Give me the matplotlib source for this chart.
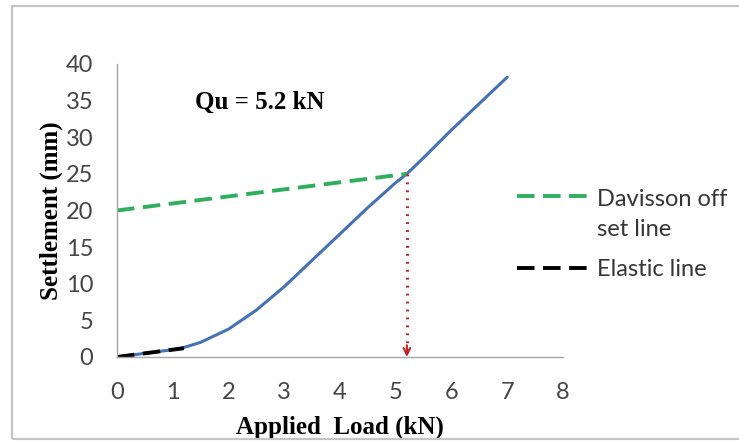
import matplotlib
matplotlib.use("Agg")
import matplotlib.pyplot as plt
from matplotlib.lines import Line2D
from matplotlib.patches import Rectangle

# load-settlement record of the pile test
load_kn = [0, 0.5, 1.0, 1.2, 1.5, 2.0, 2.5, 3.0, 3.5, 4.0, 4.5, 5.0, 5.2, 5.5, 6.0, 6.5, 7.0]
settlement_mm = [0, 0.5, 1.0, 1.3, 2.0, 3.8, 6.4, 9.6, 13.2, 16.8, 20.4, 23.8, 25.0, 27.2, 31.0, 34.6, 38.2]

# Davisson offset line and elastic line end points
davisson_x = [0, 5.2]
davisson_y = [20, 25]
elastic_x = [0, 1.2]
elastic_y = [0, 1.2]

qu = 5.2
qu_settle = 25

xticks = [0, 1, 2, 3, 4, 5, 6, 7, 8]
yticks = [0, 5, 10, 15, 20, 25, 30, 35, 40]
legend_labels = ["Davisson off\nset line", "Elastic line"]

sans = ["Lato", "DejaVu Sans"]
serif = ["Liberation Serif", "DejaVu Serif"]
green = "#2fae5e"
dash = (4.5, 2.2)

fig = plt.figure(figsize=(7.39, 4.41), dpi=100)
ax = fig.add_axes([0.1583, 0.1905, 0.6035, 0.6644])

# chart border
fig.patches.append(Rectangle((0.016, 0.005), 0.99, 0.982, transform=fig.transFigure,
                             fill=False, edgecolor="#c4c4c4", linewidth=1.6))

ax.plot(load_kn, settlement_mm, color="#4672b4", linewidth=2.2, solid_capstyle="round")
ax.plot(davisson_x, davisson_y, color=green, linewidth=2.8, dashes=dash)
ax.plot(elastic_x, elastic_y, color="black", linewidth=2.8, dashes=dash)

# dotted drop from the intersection to the load axis
ax.plot([qu, qu], [qu_settle, 0.6], color="#b8262c", linewidth=2.2, linestyle=(0, (0.6, 2.0)))
ax.annotate("", xy=(qu, 0), xytext=(qu, 1.6),
            arrowprops=dict(arrowstyle="->", color="#b8262c", lw=1.5,
                            mutation_scale=12, shrinkA=0, shrinkB=0))

ax.text(1.4, 34.8, "Qu = 5.2 kN", fontsize=18, fontweight="bold", family=serif,
        va="center", ha="left")

ax.set_xlim(0, 8)
ax.set_ylim(0, 40)
ax.set_xticks(xticks)
ax.set_yticks(yticks)
ax.tick_params(length=0, labelsize=17, colors="#454545")
ax.tick_params(axis="x", pad=18)
ax.tick_params(axis="y", pad=17)
for lab in ax.get_xticklabels() + ax.get_yticklabels():
    lab.set_family(sans)

for side in ["top", "right"]:
    ax.spines[side].set_visible(False)
for side in ["left", "bottom"]:
    ax.spines[side].set_color("#a6a6a6")
    ax.spines[side].set_linewidth(1.0)

ax.set_xlabel("Applied  Load (kN)", fontsize=18, fontweight="bold", family=serif, labelpad=9)
ax.set_ylabel("Settlement (mm)", fontsize=18, fontweight="bold", family=serif, labelpad=2)

# legend drawn by hand so the key sits on the first line of a wrapped label
W, H = 739, 441
line_gap = 32
for (label, color, y) in zip(legend_labels, [green, "black"], [196, 268]):
    fig.add_artist(Line2D([517 / W, 588 / W], [1 - y / H, 1 - y / H], color=color,
                          linewidth=2.8, dashes=dash, transform=fig.transFigure))
    # baseline alignment anchors the last line, so push wrapped labels down
    base = y + 8 + label.count("\n") * line_gap
    fig.text(597 / W, 1 - base / H, label, family=sans, fontsize=17, color="#363636",
             ha="left", va="baseline", linespacing=1.5)

fig.savefig("out.png", dpi=100)
